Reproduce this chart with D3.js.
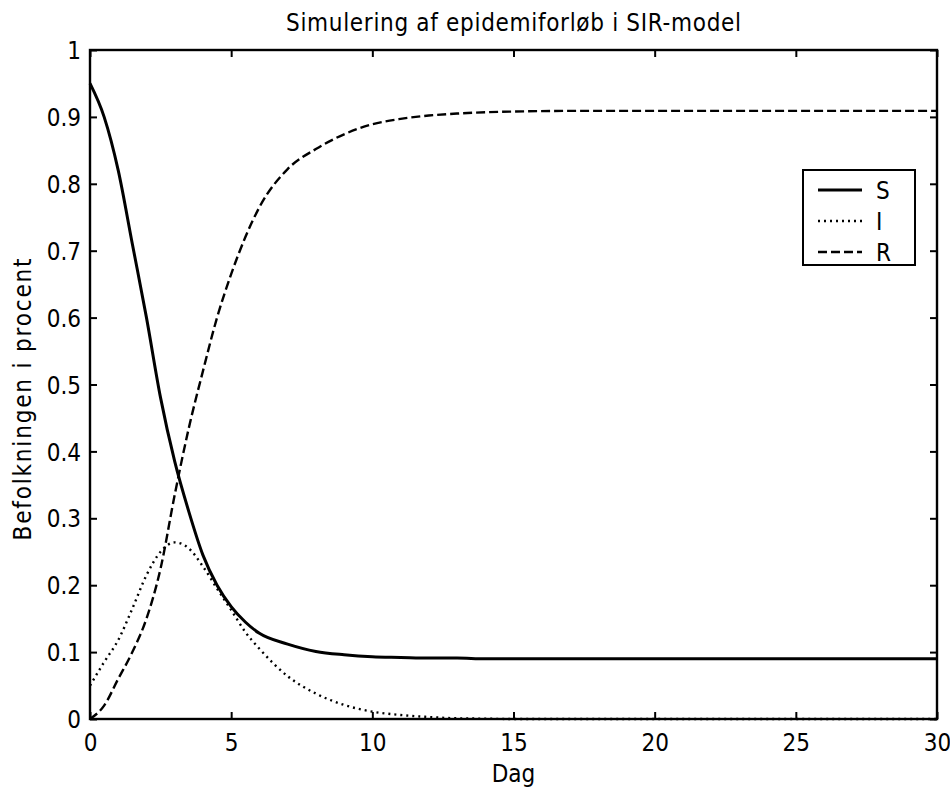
<!DOCTYPE html>
<html>
<head>
<meta charset="utf-8">
<script src="https://cdn.jsdelivr.net/npm/d3@7"></script>
<style>
  body { margin: 0; background: #fff; }
  svg text { font-family: "DejaVu Sans Condensed", "Liberation Sans Narrow", "DejaVu Sans", sans-serif; fill: #000; }
</style>
</head>
<body>
<div id="chart"></div>
<script>
// days sampled from the plot
const days = [0, 0.5, 1, 1.5, 2, 2.5, 3, 3.5, 4, 4.5, 5, 5.5, 6, 7, 8, 9, 10, 11, 12, 13, 14, 15, 17, 20, 25, 30]

const susceptible = [0.95, 0.90, 0.82, 0.71, 0.60, 0.48, 0.385, 0.31, 0.245, 0.20, 0.168, 0.145, 0.128,
  0.112, 0.101, 0.096, 0.093, 0.092, 0.091, 0.091, 0.090, 0.090, 0.090, 0.090, 0.090, 0.090]
const infected = [0.05, 0.085, 0.118, 0.165, 0.215, 0.25, 0.264, 0.255, 0.228, 0.195, 0.163, 0.13, 0.105,
  0.064, 0.038, 0.021, 0.011, 0.006, 0.003, 0.001, 0.0005, 0, 0, 0, 0, 0]
const recovered = [0, 0.02, 0.06, 0.10, 0.15, 0.225, 0.335, 0.435, 0.52, 0.60, 0.665, 0.72, 0.765,
  0.822, 0.852, 0.874, 0.889, 0.897, 0.902, 0.905, 0.907, 0.908, 0.909, 0.909, 0.909, 0.909]

const xTicks = [0, 5, 10, 15, 20, 25, 30]
const yTicks = [0, 0.1, 0.2, 0.3, 0.4, 0.5, 0.6, 0.7, 0.8, 0.9, 1]

const series = [
  { name: 'S', values: susceptible, dash: null, width: 3 },
  { name: 'I', values: infected, dash: '2,4', width: 2.4 },
  { name: 'R', values: recovered, dash: '9,4', width: 2.4 }
]

const W = 950
const H = 790
const margin = { top: 50, right: 13, bottom: 71, left: 90 }
const innerW = W - margin.left - margin.right
const innerH = H - margin.top - margin.bottom
const fontSize = 24

const svg = d3.select('#chart').append('svg')
  .attr('width', W)
  .attr('height', H)

const g = svg.append('g')
  .attr('transform', `translate(${margin.left},${margin.top})`)

const x = d3.scaleLinear().domain([0, 30]).range([0, innerW])
const y = d3.scaleLinear().domain([0, 1]).range([innerH, 0])

const fmt = d => String(+d.toFixed(1))
const tickLen = 7

// axes with inward ticks (box on all four sides)
const styleAxis = sel => {
  sel.select('.domain').remove()
  sel.selectAll('line').attr('stroke', '#000').attr('stroke-width', 2)
  sel.selectAll('text').attr('font-size', fontSize)
}

g.append('g')
  .attr('transform', `translate(0,${innerH})`)
  .call(d3.axisBottom(x).tickValues(xTicks).tickSizeInner(-tickLen).tickSizeOuter(0).tickPadding(15).tickFormat(fmt))
  .call(styleAxis)

g.append('g')
  .call(d3.axisLeft(y).tickValues(yTicks).tickSizeInner(-tickLen).tickSizeOuter(0).tickPadding(9).tickFormat(fmt))
  .call(styleAxis)
  .selectAll('text').attr('dy', '0.36em')

g.append('g')
  .call(d3.axisTop(x).tickValues(xTicks).tickSizeInner(-tickLen).tickSizeOuter(0).tickFormat(''))
  .call(styleAxis)

g.append('g')
  .attr('transform', `translate(${innerW},0)`)
  .call(d3.axisRight(y).tickValues(yTicks).tickSizeInner(-tickLen).tickSizeOuter(0).tickFormat(''))
  .call(styleAxis)

// curves
const line = d3.line()
  .x((d, i) => x(days[i]))
  .y(d => y(d))
  .curve(d3.curveMonotoneX)

g.selectAll('path.curve')
  .data(series)
  .join('path')
  .attr('class', 'curve')
  .attr('d', d => line(d.values))
  .attr('fill', 'none')
  .attr('stroke', '#000')
  .attr('stroke-width', d => d.width)
  .attr('stroke-dasharray', d => d.dash)

// frame
g.append('rect')
  .attr('width', innerW)
  .attr('height', innerH)
  .attr('fill', 'none')
  .attr('stroke', '#000')
  .attr('stroke-width', 2.4)

// legend, top right inside the axes
const legW = 112
const legH = 95
const legend = g.append('g')
  .attr('transform', `translate(${innerW - legW - 22},120)`)

legend.append('rect')
  .attr('width', legW)
  .attr('height', legH)
  .attr('fill', '#fff')
  .attr('stroke', '#000')
  .attr('stroke-width', 2)

const item = legend.selectAll('g.item')
  .data(series)
  .join('g')
  .attr('class', 'item')
  .attr('transform', (d, i) => `translate(0,${20 + i * 31})`)

item.append('line')
  .attr('x1', 15)
  .attr('x2', 59)
  .attr('stroke', '#000')
  .attr('stroke-width', d => d.width)
  .attr('stroke-dasharray', d => d.dash)

item.append('text')
  .attr('x', 73)
  .attr('dy', '0.36em')
  .attr('font-size', fontSize)
  .text(d => d.name)

// titles
svg.append('text')
  .attr('x', margin.left + innerW / 2)
  .attr('y', 31)
  .attr('text-anchor', 'middle')
  .attr('font-size', fontSize)
  .attr('textLength', 455)
  .text('Simulering af epidemiforløb i SIR-model')

svg.append('text')
  .attr('x', margin.left + innerW / 2)
  .attr('y', 782)
  .attr('text-anchor', 'middle')
  .attr('font-size', fontSize)
  .text('Dag')

svg.append('text')
  .attr('transform', `translate(31,${margin.top + innerH / 2 + 15}) rotate(-90)`)
  .attr('text-anchor', 'middle')
  .attr('font-size', fontSize)
  .attr('textLength', 282)
  .text('Befolkningen i procent')
</script>
</body>
</html>
